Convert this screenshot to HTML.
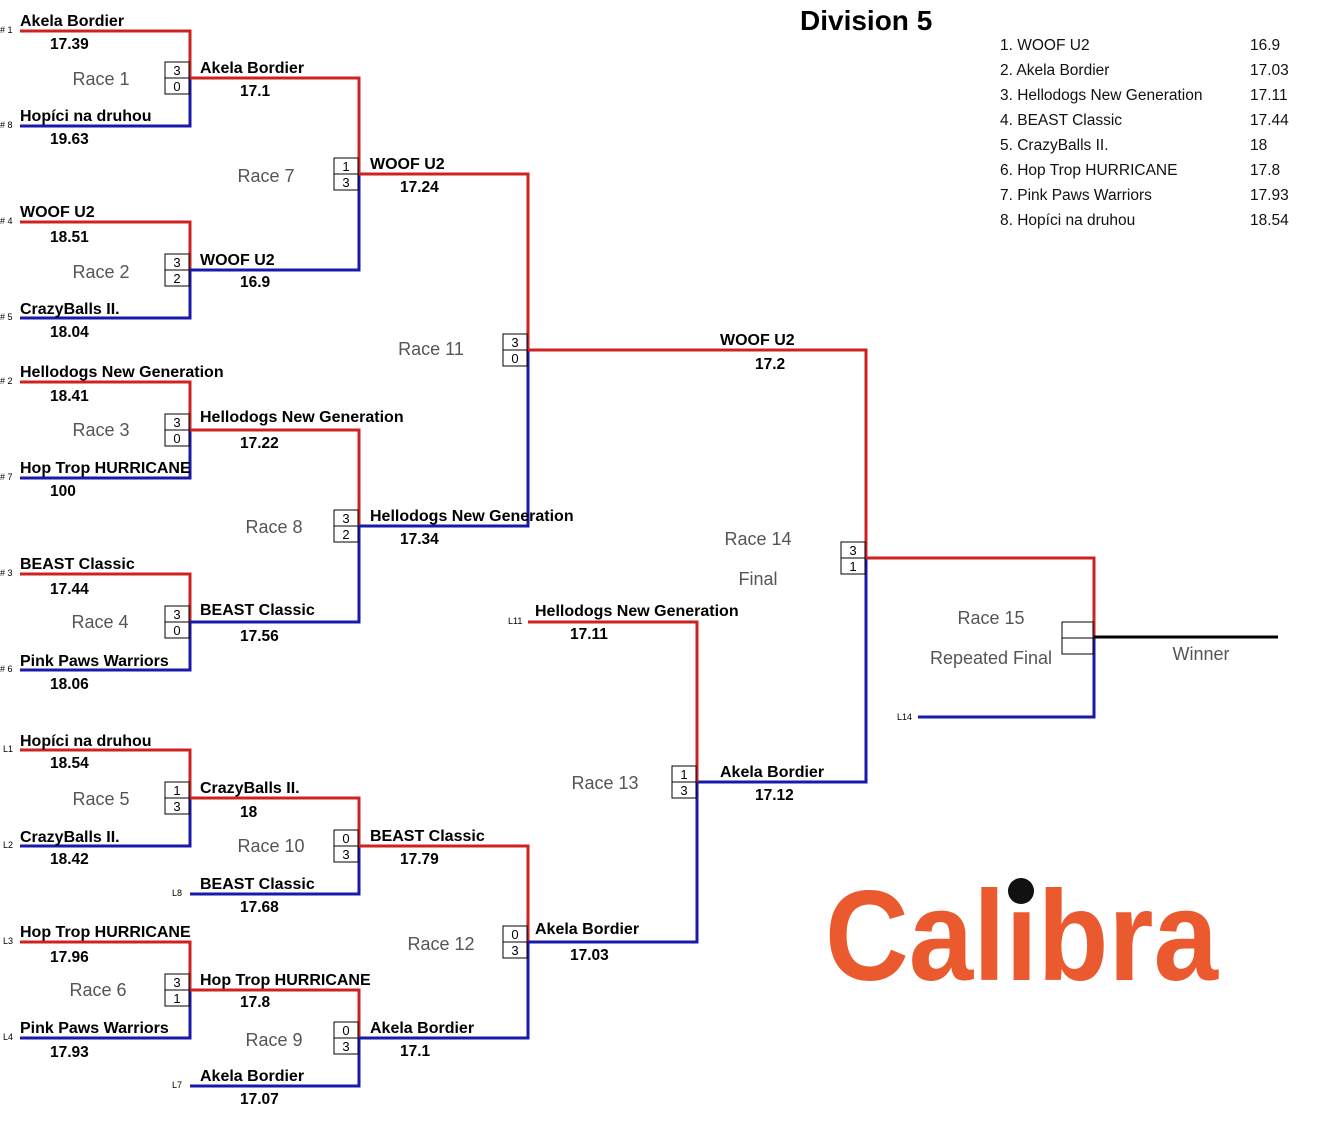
<!DOCTYPE html>
<html><head><meta charset="utf-8"><style>
html,body{margin:0;padding:0;background:#fff;}
svg{display:block;font-family:"Liberation Sans",Arial,sans-serif;}
.n{font-weight:bold;font-size:16px;fill:#000;}
.t{font-weight:bold;font-size:15.5px;fill:#000;}
.r{font-size:18px;fill:#555;}
.s{font-size:9px;fill:#000;}
.b{font-size:13px;fill:#000;}
.R{stroke:#cc2222;stroke-width:3;fill:none;}
.B{stroke:#1a1aaa;stroke-width:3;fill:none;}
.bx{fill:#fff;stroke:#000;stroke-width:1;}
.l{font-size:15.5px;fill:#111;}
</style></head><body>
<svg width="1331" height="1122" viewBox="0 0 1331 1122">
<g>
<path class="R" d="M20 31H190V78"/><path class="B" d="M20 126H190V78"/>
<path class="R" d="M20 222H190V270"/><path class="B" d="M20 318H190V270"/>
<path class="R" d="M20 382H190V430"/><path class="B" d="M20 478H190V430"/>
<path class="R" d="M20 574H190V622"/><path class="B" d="M20 670H190V622"/>
<path class="R" d="M190 78H359V174"/><path class="B" d="M190 270H359V174"/>
<path class="R" d="M190 430H359V526"/><path class="B" d="M190 622H359V526"/>
<path class="R" d="M359 174H528V350"/><path class="B" d="M359 526H528V350"/>
<path class="R" d="M528 350H866V558"/><path class="B" d="M697 782H866V558"/>
<path class="R" d="M866 558H1094V637"/><path class="B" d="M918 717H1094V637"/>
<path d="M1094 637H1278" stroke="#000" stroke-width="3"/>
<path class="R" d="M20 750H190V798"/><path class="B" d="M20 846H190V798"/>
<path class="R" d="M190 798H359V846"/><path class="B" d="M190 894H359V846"/>
<path class="R" d="M20 942H190V990"/><path class="B" d="M20 1038H190V990"/>
<path class="R" d="M190 990H359V1038"/><path class="B" d="M190 1086H359V1038"/>
<path class="R" d="M359 846H528V942"/><path class="B" d="M359 1038H528V942"/>
<path class="R" d="M528 622H697V782"/><path class="B" d="M528 942H697V782"/>
</g>
<g class="b" text-anchor="middle">
<rect class="bx" x="165" y="62" width="24" height="16"/><rect class="bx" x="165" y="78" width="24" height="16"/><text x="177" y="75">3</text><text x="177" y="91">0</text>
<rect class="bx" x="165" y="254" width="24" height="16"/><rect class="bx" x="165" y="270" width="24" height="16"/><text x="177" y="267">3</text><text x="177" y="283">2</text>
<rect class="bx" x="165" y="414" width="24" height="16"/><rect class="bx" x="165" y="430" width="24" height="16"/><text x="177" y="427">3</text><text x="177" y="443">0</text>
<rect class="bx" x="165" y="606" width="24" height="16"/><rect class="bx" x="165" y="622" width="24" height="16"/><text x="177" y="619">3</text><text x="177" y="635">0</text>
<rect class="bx" x="165" y="782" width="24" height="16"/><rect class="bx" x="165" y="798" width="24" height="16"/><text x="177" y="795">1</text><text x="177" y="811">3</text>
<rect class="bx" x="165" y="974" width="24" height="16"/><rect class="bx" x="165" y="990" width="24" height="16"/><text x="177" y="987">3</text><text x="177" y="1003">1</text>
<rect class="bx" x="334" y="158" width="24" height="16"/><rect class="bx" x="334" y="174" width="24" height="16"/><text x="346" y="171">1</text><text x="346" y="187">3</text>
<rect class="bx" x="334" y="510" width="24" height="16"/><rect class="bx" x="334" y="526" width="24" height="16"/><text x="346" y="523">3</text><text x="346" y="539">2</text>
<rect class="bx" x="334" y="830" width="24" height="16"/><rect class="bx" x="334" y="846" width="24" height="16"/><text x="346" y="843">0</text><text x="346" y="859">3</text>
<rect class="bx" x="334" y="1022" width="24" height="16"/><rect class="bx" x="334" y="1038" width="24" height="16"/><text x="346" y="1035">0</text><text x="346" y="1051">3</text>
<rect class="bx" x="503" y="334" width="24" height="16"/><rect class="bx" x="503" y="350" width="24" height="16"/><text x="515" y="347">3</text><text x="515" y="363">0</text>
<rect class="bx" x="503" y="926" width="24" height="16"/><rect class="bx" x="503" y="942" width="24" height="16"/><text x="515" y="939">0</text><text x="515" y="955">3</text>
<rect class="bx" x="672" y="766" width="24" height="16"/><rect class="bx" x="672" y="782" width="24" height="16"/><text x="684" y="779">1</text><text x="684" y="795">3</text>
<rect class="bx" x="841" y="542" width="24" height="16"/><rect class="bx" x="841" y="558" width="24" height="16"/><text x="853" y="555">3</text><text x="853" y="571">1</text>
<rect class="bx" x="1062" y="622" width="31" height="16"/><rect class="bx" x="1062" y="638" width="31" height="16"/>
</g>
<g class="s">
<text x="0" y="33"># 1</text><text x="0" y="128"># 8</text><text x="0" y="224"># 4</text><text x="0" y="320"># 5</text>
<text x="0" y="384"># 2</text><text x="0" y="480"># 7</text><text x="0" y="576"># 3</text><text x="0" y="672"># 6</text>
<text x="3" y="752">L1</text><text x="3" y="848">L2</text><text x="3" y="944">L3</text><text x="3" y="1040">L4</text>
<text x="172" y="896">L8</text><text x="172" y="1088">L7</text><text x="508" y="624">L11</text><text x="897" y="720">L14</text>
</g>
<g class="n">
<text x="20" y="26">Akela Bordier</text><text x="20" y="121">Hopíci na druhou</text>
<text x="20" y="217">WOOF U2</text><text x="20" y="314">CrazyBalls II.</text>
<text x="20" y="377">Hellodogs New Generation</text><text x="20" y="473">Hop Trop HURRICANE</text>
<text x="20" y="569">BEAST Classic</text><text x="20" y="666">Pink Paws Warriors</text>
<text x="20" y="746">Hopíci na druhou</text><text x="20" y="842">CrazyBalls II.</text>
<text x="20" y="937">Hop Trop HURRICANE</text><text x="20" y="1033">Pink Paws Warriors</text>
<text x="200" y="73">Akela Bordier</text><text x="200" y="265">WOOF U2</text>
<text x="200" y="422">Hellodogs New Generation</text><text x="200" y="615">BEAST Classic</text>
<text x="200" y="793">CrazyBalls II.</text><text x="200" y="889">BEAST Classic</text>
<text x="200" y="985">Hop Trop HURRICANE</text><text x="200" y="1081">Akela Bordier</text>
<text x="370" y="169">WOOF U2</text><text x="370" y="521">Hellodogs New Generation</text>
<text x="370" y="841">BEAST Classic</text><text x="370" y="1033">Akela Bordier</text>
<text x="535" y="616">Hellodogs New Generation</text><text x="535" y="934">Akela Bordier</text>
<text x="720" y="345">WOOF U2</text><text x="720" y="777">Akela Bordier</text>
</g>
<g class="t">
<text x="50" y="49">17.39</text><text x="50" y="144">19.63</text><text x="50" y="242">18.51</text><text x="50" y="337">18.04</text>
<text x="50" y="401">18.41</text><text x="50" y="496">100</text><text x="50" y="594">17.44</text><text x="50" y="689">18.06</text>
<text x="50" y="768">18.54</text><text x="50" y="864">18.42</text><text x="50" y="962">17.96</text><text x="50" y="1057">17.93</text>
<text x="240" y="96">17.1</text><text x="240" y="287">16.9</text><text x="240" y="448">17.22</text><text x="240" y="641">17.56</text>
<text x="240" y="817">18</text><text x="240" y="912">17.68</text><text x="240" y="1007">17.8</text><text x="240" y="1104">17.07</text>
<text x="400" y="192">17.24</text><text x="400" y="544">17.34</text><text x="400" y="864">17.79</text><text x="400" y="1056">17.1</text>
<text x="570" y="639">17.11</text><text x="570" y="960">17.03</text>
<text x="755" y="369">17.2</text><text x="755" y="800">17.12</text>
</g>
<g class="r" text-anchor="middle">
<text x="101" y="85">Race 1</text><text x="101" y="278">Race 2</text><text x="101" y="436">Race 3</text><text x="100" y="628">Race 4</text>
<text x="101" y="805">Race 5</text><text x="98" y="996">Race 6</text>
<text x="266" y="182">Race 7</text><text x="274" y="533">Race 8</text><text x="274" y="1046">Race 9</text><text x="271" y="852">Race 10</text>
<text x="431" y="355">Race 11</text><text x="441" y="950">Race 12</text><text x="605" y="789">Race 13</text>
<text x="758" y="545">Race 14</text><text x="758" y="585">Final</text>
<text x="991" y="624">Race 15</text><text x="991" y="664">Repeated Final</text>
<text x="1201" y="660">Winner</text>
</g>
<text x="800" y="30" font-size="28" font-weight="bold">Division 5</text>
<g class="l">
<text x="1000" y="50">1. WOOF U2</text><text x="1250" y="50">16.9</text>
<text x="1000" y="75">2. Akela Bordier</text><text x="1250" y="75">17.03</text>
<text x="1000" y="100">3. Hellodogs New Generation</text><text x="1250" y="100">17.11</text>
<text x="1000" y="125">4. BEAST Classic</text><text x="1250" y="125">17.44</text>
<text x="1000" y="150">5. CrazyBalls II.</text><text x="1250" y="150">18</text>
<text x="1000" y="175">6. Hop Trop HURRICANE</text><text x="1250" y="175">17.8</text>
<text x="1000" y="200">7. Pink Paws Warriors</text><text x="1250" y="200">17.93</text>
<text x="1000" y="225">8. Hopíci na druhou</text><text x="1250" y="225">18.54</text>
</g>
<text x="825" y="980" font-size="128" font-weight="bold" fill="#ea5a2e" textLength="393" lengthAdjust="spacingAndGlyphs">Calıbra</text>
<circle cx="1021" cy="891" r="13" fill="#111"/>
</svg>
</body></html>
